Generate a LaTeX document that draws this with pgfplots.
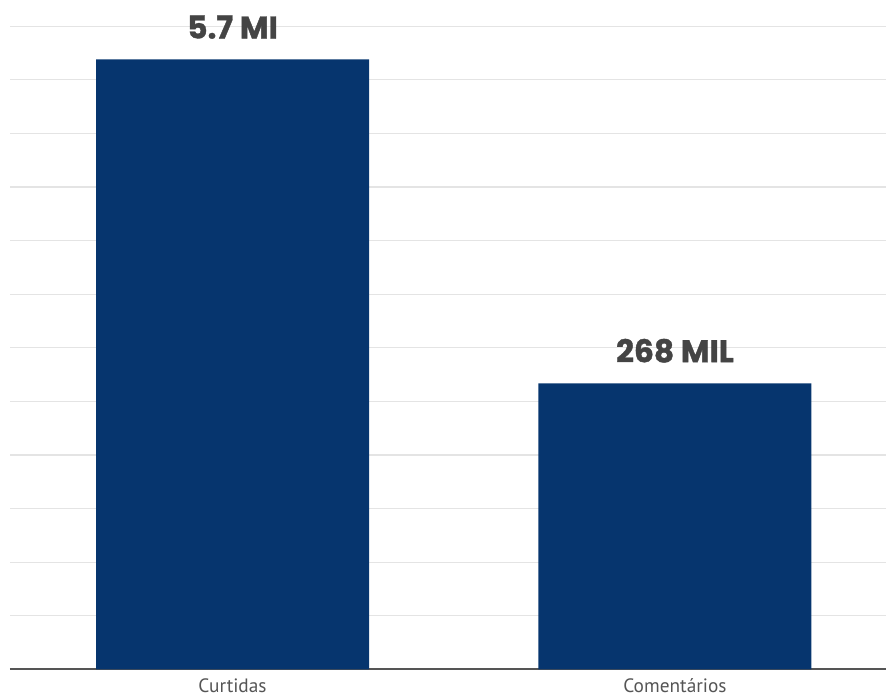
\documentclass[border=0pt]{standalone}
\usepackage{pgfplots}
\pgfplotsset{compat=1.18}
\usepackage{fontspec}
\setmainfont{PT Sans}
\newfontfamily\valfont[BoldFeatures={FakeBold=1.2}]{Poppins}
\definecolor{barblue}{HTML}{06356E}
\definecolor{gridgray}{HTML}{E4E4E4}
\definecolor{txtgray}{HTML}{444444}
\definecolor{ticktxt}{HTML}{555555}
\begin{document}
\begin{tikzpicture}[x=1pt,y=1pt]
\begin{axis}[
  scale only axis,
  width=657pt, height=502pt,
  xmin=-0.503, xmax=1.477,
  ymin=0, ymax=6.245,
  axis x line*=bottom,
  axis y line*=left,
  y axis line style={draw=none},
  x axis line style={color=ticktxt, line width=1.5pt, -},
  ytick={0.5,1,...,6},
  yticklabels={},
  ytick style={draw=none},
  ymajorgrids,
  grid style={gridgray, line width=0.8pt},
  xtick={0,1},
  xticklabels={Curtidas,Comentários},
  xtick style={draw=none},
  xticklabel style={font=\fontsize{14.5}{16}\selectfont, text=ticktxt, anchor=north, inner sep=0pt, yshift=-2.5pt},
  ybar, bar width=0.617, bar shift=0pt,
  enlargelimits=false,
  clip=false,
  point meta=explicit symbolic,
  nodes near coords,
  nodes near coords style={font=\valfont\bfseries\fontsize{23.5}{26}\selectfont, text=txtgray, anchor=south, yshift=12pt},
]
\addplot[fill=barblue, draw=none] coordinates {(0,5.69) [5.7 MI] (1,2.668) [268 MIL]};
\end{axis}
\pgfresetboundingbox
\path[use as bounding box] ([xshift=-7.5pt]current axis.north west) rectangle ([yshift=-20.25pt]current axis.south east);
\end{tikzpicture}
\end{document}
